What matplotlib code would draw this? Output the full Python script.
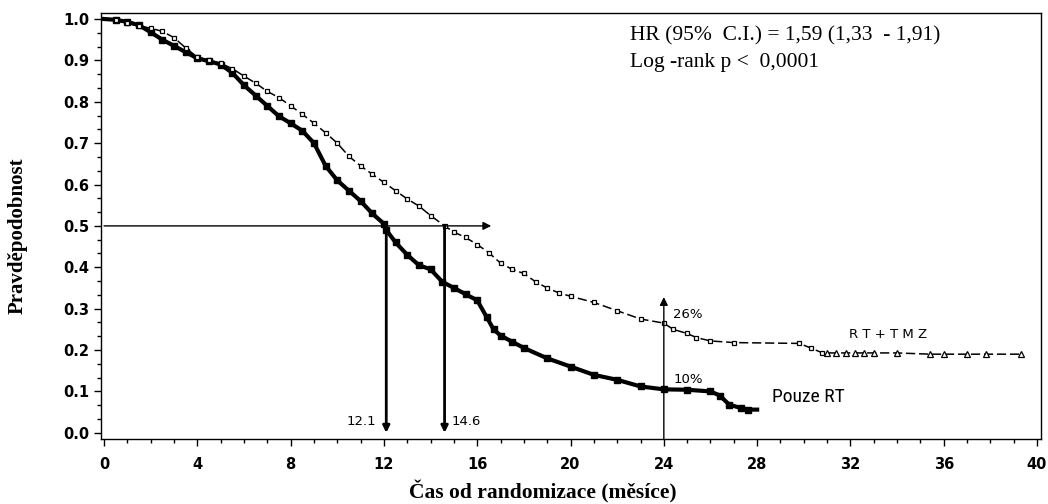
import matplotlib
matplotlib.use("Agg")
import matplotlib.pyplot as plt
from matplotlib.ticker import MultipleLocator, FixedLocator

# ---------------- data ----------------
rt_months = [0, 0.5, 1.0, 1.5, 2.0, 2.5, 3.0, 3.5, 4.0, 4.5, 5.0, 5.5, 6.0, 6.5, 7.0,
             7.5, 8.0, 8.5, 9.0, 9.5, 10.0, 10.5, 11.0, 11.5, 12.0, 12.1, 12.5, 13.0,
             13.5, 14.0, 14.5, 15.0, 15.5, 16.0, 16.4, 16.7, 17.0, 17.5, 18.0, 19.0,
             20.0, 21.0, 22.0, 23.0, 24.0, 25.0, 26.0, 26.4, 26.8, 27.3, 27.6, 28.0]
rt_surv = [1.0, 0.998, 0.993, 0.985, 0.968, 0.95, 0.935, 0.92, 0.905, 0.898, 0.89,
           0.87, 0.84, 0.815, 0.79, 0.765, 0.748, 0.73, 0.70, 0.645, 0.61, 0.585,
           0.56, 0.53, 0.505, 0.49, 0.46, 0.43, 0.405, 0.395, 0.365, 0.35, 0.335,
           0.32, 0.28, 0.25, 0.235, 0.22, 0.205, 0.18, 0.16, 0.14, 0.128, 0.112,
           0.105, 0.104, 0.10, 0.09, 0.068, 0.06, 0.056, 0.056]

tmz_months = [0, 0.5, 1.0, 1.5, 2.0, 2.5, 3.0, 3.5, 4.0, 4.5, 5.0, 5.5, 6.0, 6.5, 7.0,
              7.5, 8.0, 8.5, 9.0, 9.5, 10.0, 10.5, 11.0, 11.5, 12.0, 12.5, 13.0, 13.5,
              14.0, 14.6, 15.0, 15.5, 16.0, 16.5, 17.0, 17.5, 18.0, 18.5, 19.0, 19.5,
              20.0, 21.0, 22.0, 23.0, 24.0, 24.4, 25.0, 25.4, 26.0, 27.0, 29.8, 30.3,
              30.8]
tmz_surv = [1.0, 0.998, 0.99, 0.983, 0.978, 0.97, 0.955, 0.93, 0.908, 0.90, 0.893,
            0.88, 0.862, 0.845, 0.825, 0.81, 0.79, 0.77, 0.748, 0.725, 0.70, 0.668,
            0.645, 0.625, 0.605, 0.585, 0.565, 0.548, 0.525, 0.50, 0.485, 0.472,
            0.455, 0.435, 0.41, 0.395, 0.385, 0.365, 0.35, 0.338, 0.33, 0.315, 0.295,
            0.275, 0.265, 0.25, 0.24, 0.23, 0.222, 0.218, 0.216, 0.205, 0.193]
tmz_tail_months = [31.0, 31.4, 31.8, 32.2, 32.6, 33.0, 34.0, 35.4, 36.0, 37.0, 37.8, 39.3]
tmz_tail_surv = [0.193, 0.193, 0.193, 0.193, 0.193, 0.193, 0.193, 0.19, 0.19, 0.19, 0.19, 0.19]

x_ticks = [0, 4, 8, 12, 16, 20, 24, 28, 32, 36, 40]
y_ticks = [0.0, 0.1, 0.2, 0.3, 0.4, 0.5, 0.6, 0.7, 0.8, 0.9, 1.0]
y_ticklabels = ["0.0", "0.1", "0.2", "0.3", "0.4", "0.5", "0.6", "0.7", "0.8", "0.9", "1.0"]

median_rt = 12.1
median_tmz = 14.6
landmark = 24
landmark_rt = 0.10
landmark_tmz = 0.26

# ---------------- figure ----------------
fig = plt.figure(figsize=(10.48, 5.04), dpi=100)
ax = fig.add_axes([101 / 1048, 1 - 439 / 504, 940 / 1048, 426 / 504])

# Pouze RT
ax.plot(rt_months, rt_surv, color="black", lw=3.0, solid_joinstyle="miter")
ax.plot(rt_months[1:-1], rt_surv[1:-1], ls="none", marker="s", ms=4,
        mfc="black", mec="black")

# RT+TMZ
full_m = tmz_months + tmz_tail_months
full_s = tmz_surv + tmz_tail_surv
ax.plot(full_m, full_s, color="black", lw=1.1, dashes=(6, 2.5))
ax.plot(tmz_months[1:], tmz_surv[1:], ls="none", marker="s", ms=3.5,
        mfc="white", mec="black", mew=0.9)
ax.plot(tmz_tail_months, tmz_tail_surv, ls="none", marker="^", ms=4,
        mfc="white", mec="black", mew=0.9)

# median lines
ax.annotate("", xy=(16.6, 0.5), xytext=(0, 0.5),
            arrowprops=dict(arrowstyle="-|>", color="black", lw=1.0,
                            mutation_scale=12, shrinkA=0, shrinkB=0))
for m in (median_rt, median_tmz):
    ax.annotate("", xy=(m, 0.0), xytext=(m, 0.5),
                arrowprops=dict(arrowstyle="-|>", color="black", lw=2.0,
                                mutation_scale=10, shrinkA=0, shrinkB=0))
ax.annotate("", xy=(landmark, 0.328), xytext=(landmark, -0.015),
            arrowprops=dict(arrowstyle="-|>", color="black", lw=1.0,
                            mutation_scale=12, shrinkA=0, shrinkB=0))

txt = dict(family="DejaVu Sans", fontsize=9.5, color="black")
ax.text(median_rt - 0.45, 0.012, f"{median_rt}", ha="right", va="bottom", **txt)
ax.text(median_tmz + 0.3, 0.012, f"{median_tmz}", ha="left", va="bottom", **txt)
ax.text(landmark + 0.4, landmark_tmz + 0.01, f"{int(landmark_tmz*100)}%", ha="left",
        va="bottom", **txt)
ax.text(landmark + 0.4, landmark_rt + 0.013, f"{int(landmark_rt*100)}%", ha="left",
        va="bottom", **txt)
ax.text(33.6, 0.237, "R T + T M Z", ha="center", va="center", **txt)
ax.text(30.2, 0.087, "Pouze RT", ha="center", va="center",
        family=["Roboto Condensed", "Roboto", "DejaVu Sans"], fontsize=14)

serif = dict(family="Liberation Serif", color="black")
ax.text((630 - 101) / 940, (439 - 36) / 426, "HR (95%  C.I.) = 1,59 (1,33  - 1,91)",
        transform=ax.transAxes, ha="left", va="center", fontsize=15.5, **serif)
ax.text((630 - 101) / 940, (439 - 62) / 426, "Log -rank p <  0,0001",
        transform=ax.transAxes, ha="left", va="center", fontsize=15.5, **serif)

# axes
ax.set_xlim(-0.13, 40.17)
ax.set_ylim(-0.015, 1.0145)
ax.xaxis.set_major_locator(FixedLocator(x_ticks))
ax.xaxis.set_minor_locator(MultipleLocator(1))
ax.yaxis.set_major_locator(FixedLocator(y_ticks))
ax.set_yticklabels(y_ticklabels)
ax.yaxis.set_minor_locator(MultipleLocator(1 / 30))
ax.tick_params(which="major", length=5, width=1, direction="out", labelsize=10.5)
ax.tick_params(which="minor", length=3, width=1, direction="out")
ax.tick_params(axis="x", pad=8)
for lab in ax.get_xticklabels() + ax.get_yticklabels():
    lab.set_fontweight("bold")
    lab.set_family("DejaVu Sans")
for s in ax.spines.values():
    s.set_linewidth(1.0)

fig.text(18 / 1048, 1 - 236 / 504, "Pravděpodobnost", rotation=90, ha="center",
         va="center", fontsize=15, fontweight="bold", **serif)
fig.text(543 / 1048, 1 - 492 / 504, "Čas od randomizace (měsíce)", ha="center",
         va="center", fontsize=15.5, fontweight="bold", **serif)

fig.savefig("out.png", dpi=100)
